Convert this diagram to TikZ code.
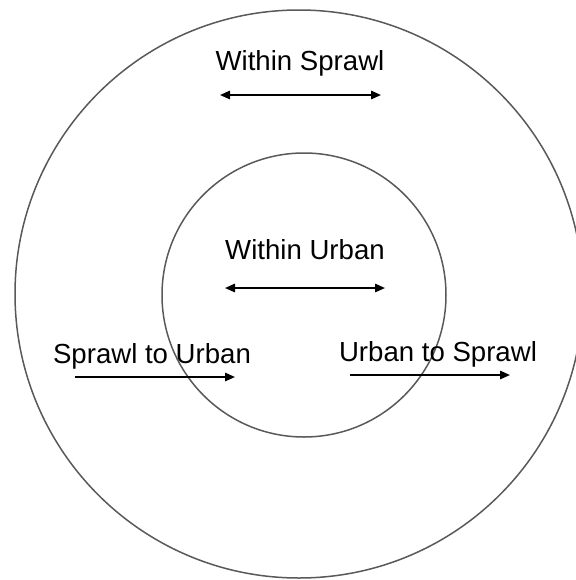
\documentclass[tikz,border=0pt]{standalone}
\usepackage{fontspec}
\setmainfont{Liberation Sans}
\usetikzlibrary{arrows.meta}
\begin{document}
\begin{tikzpicture}[x=0.5pt,y=-0.5pt,
  ring/.style={draw=black!65,line width=0.75pt},
  lbl/.style={font=\fontsize{13.8}{16}\selectfont,inner sep=0pt,text=black},
  arr/.style={line width=0.9pt,-{Triangle[length=5pt,width=4.2pt]}},
  darr/.style={line width=0.9pt,{Triangle[length=5pt,width=4.2pt]}-{Triangle[length=5pt,width=4.2pt]}}]
\useasboundingbox (0,0) rectangle (576,580);
\clip (0,0) rectangle (576,580);
\draw[ring] (299,294) circle[radius=284];
\draw[ring] (304,295) circle[radius=142];
\node[lbl] (ws) at (300,63) {Within Sprawl};
\coordinate (ws1) at (220,95); \coordinate (ws2) at (381,95);
\draw[darr] (ws1) -- (ws2);
\node[lbl] (wu) at (305,250) {Within Urban};
\coordinate (wu1) at (225,288); \coordinate (wu2) at (385,288);
\draw[darr] (wu1) -- (wu2);
\node[lbl] (su) at (152,356) {Sprawl to Urban};
\coordinate (su1) at (75,377); \coordinate (su2) at (235,377);
\draw[arr] (su1) -- (su2);
\node[lbl] (us) at (438,354) {Urban to Sprawl};
\coordinate (us1) at (350,375); \coordinate (us2) at (510,375);
\draw[arr] (us1) -- (us2);
\end{tikzpicture}
\end{document}
